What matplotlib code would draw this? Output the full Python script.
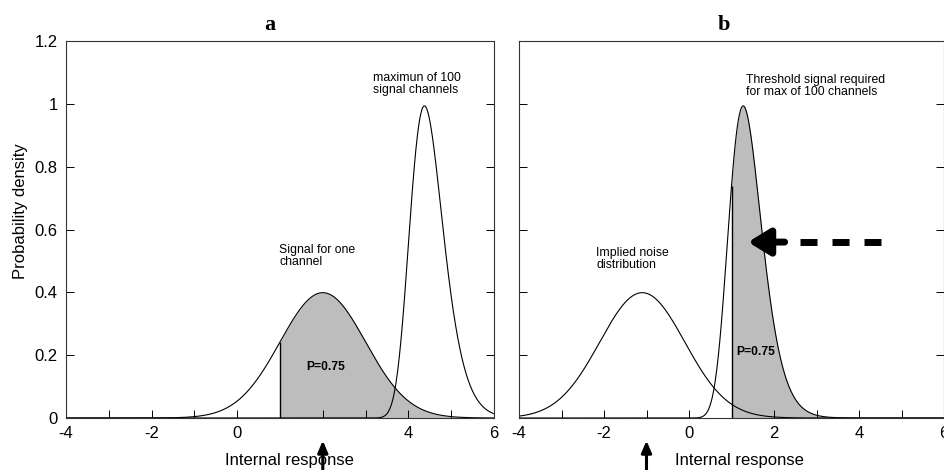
import math

import numpy as np
import matplotlib
matplotlib.use('Agg')
import matplotlib.pyplot as plt

# distribution parameters
x_range = (-4, 6)
signal_mean = 2.0      # panel a, one channel
noise_mean = -1.1      # panel b, implied noise
sd = 1.0
n_channels = 100
criterion = 1.0

x_ticks = [-4, -3, -2, -1, 0, 1, 2, 3, 4, 5, 6]
x_labels_a = ['-4', '', '-2', '', '0', '', '', '', '4', '', '6']
x_labels_b = ['-4', '', '-2', '', '0', '', '2', '', '4', '', '6']
y_ticks = [0, 0.2, 0.4, 0.6, 0.8, 1.0, 1.2]
y_labels = ['0', '0.2', '0.4', '0.6', '0.8', '1', '1.2']

arrow_at_a = 2.0
arrow_at_b = -1.0
dash_arrow_y = 0.56
dash_arrow_x = (1.39, 4.52)

plt.rcParams['font.family'] = ['Liberation Sans', 'DejaVu Sans']

_cdf = np.vectorize(lambda z: 0.5 * (1.0 + math.erf(z / math.sqrt(2.0))))


def normal_pdf(x, mu, s):
    return np.exp(-0.5 * ((x - mu) / s) ** 2) / (s * np.sqrt(2 * np.pi))


def max_pdf(x, mu, s, n):
    z = (x - mu) / s
    return n * normal_pdf(x, mu, s) * _cdf(z) ** (n - 1)


def style_axes(ax, labels, show_y):
    ax.set_xlim(*x_range)
    ax.set_ylim(0, 1.2)
    ax.set_xticks(x_ticks)
    ax.set_xticklabels(labels)
    ax.set_yticks(y_ticks)
    ax.set_yticklabels(y_labels if show_y else [])
    ax.tick_params(direction='in', length=5.5, width=0.7, labelsize=12,
                   left=True, right=True, top=False, bottom=True, pad=6)
    for sp in ax.spines.values():
        sp.set_linewidth(0.8)
        sp.set_color('#333333')
    ax.set_xlabel('Internal response', fontsize=12)


def up_arrow(ax, x):
    ax.annotate('', xy=(x, -0.06), xycoords=('data', 'axes fraction'),
                xytext=(x, -0.14), textcoords=('data', 'axes fraction'),
                arrowprops=dict(arrowstyle='-|>,head_length=0.7,head_width=0.3',
                                lw=2.2, color='k', shrinkA=0, shrinkB=0),
                annotation_clip=False)


x = np.linspace(x_range[0], x_range[1], 801)
shade = '#bdbdbd'

fig = plt.figure(figsize=(9.45, 4.7), dpi=100)
ax_a = fig.add_axes([66 / 945, 52 / 470, 428 / 945, 377 / 470])
ax_b = fig.add_axes([519 / 945, 52 / 470, 425 / 945, 377 / 470])

# panel a: one signal channel and the max of 100 signal channels
one = normal_pdf(x, signal_mean, sd)
mx = max_pdf(x, signal_mean, sd, n_channels)
ax_a.fill_between(x, 0, one, where=x >= criterion, color=shade, lw=0)
ax_a.plot(x, one, color='k', lw=0.8)
ax_a.plot(x, mx, color='k', lw=0.8)
ax_a.vlines(criterion, 0, normal_pdf(criterion, signal_mean, sd), color='k', lw=1.0)
ax_a.text(3.17, 1.10, 'maximun of 100\nsignal channels', fontsize=8.8, va='top', linespacing=1.0)
ax_a.text(0.98, 0.555, 'Signal for one\nchannel', fontsize=8.8, va='top', linespacing=1.0)
ax_a.text(1.62, 0.163, 'P=0.75', fontsize=8.7, fontweight='bold', va='center')
style_axes(ax_a, x_labels_a, True)
ax_a.set_ylabel('Probability density', fontsize=12)
ax_a.yaxis.set_label_coords(-0.089, 0.55)
ax_a.xaxis.set_label_coords(0.523, -0.092)
ax_a.set_title('a', fontfamily='Liberation Serif', fontweight='bold', fontsize=16,
               x=0.477, pad=8)
up_arrow(ax_a, arrow_at_a)

# panel b: implied noise and threshold signal for max of 100 channels
noise = normal_pdf(x, noise_mean, sd)
thr = max_pdf(x, noise_mean, sd, n_channels)
ax_b.fill_between(x, 0, thr, where=x >= criterion, color=shade, lw=0)
ax_b.plot(x, noise, color='k', lw=0.8)
ax_b.plot(x, thr, color='k', lw=0.8)
ax_b.vlines(criterion, 0, max_pdf(criterion, noise_mean, sd, n_channels), color='k', lw=1.0)
ax_b.text(1.33, 1.095, 'Threshold signal required\nfor max of 100 channels', fontsize=8.8,
          va='top', linespacing=1.0)
ax_b.text(-2.18, 0.545, 'Implied noise\ndistribution', fontsize=8.8, va='top', linespacing=1.0)
ax_b.text(1.12, 0.21, 'P=0.75', fontsize=8.7, fontweight='bold', va='center')
style_axes(ax_b, x_labels_b, False)
ax_b.xaxis.set_label_coords(0.519, -0.092)
ax_b.set_title('b', fontfamily='Liberation Serif', fontweight='bold', fontsize=16,
               x=0.482, pad=8)
up_arrow(ax_b, arrow_at_b)

# dashed arrow pointing at the threshold curve
ax_b.annotate('', xy=(dash_arrow_x[0], dash_arrow_y), xytext=(2.25, dash_arrow_y),
              arrowprops=dict(arrowstyle='-|>,head_length=1.3,head_width=0.8',
                              lw=5, color='k', shrinkA=0, shrinkB=0))
ax_b.plot([2.6, dash_arrow_x[1]], [dash_arrow_y, dash_arrow_y], color='k', lw=5,
          dashes=(2.45, 2.16), dash_capstyle='butt')

fig.savefig('out.png', dpi=100)
